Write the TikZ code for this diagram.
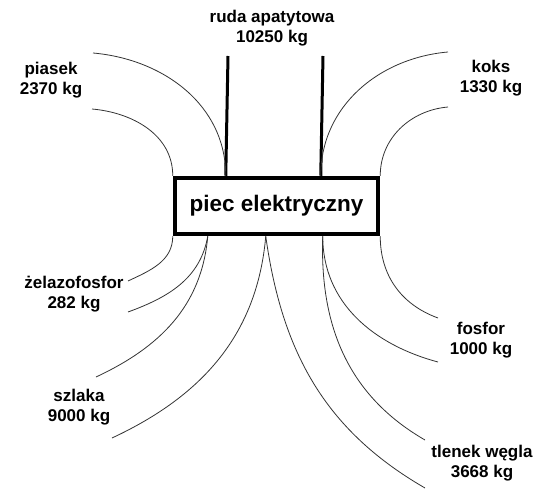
\documentclass[tikz,border=0pt]{standalone}
\usepackage{fontspec}
\setmainfont{Liberation Sans}
\usetikzlibrary{arrows.meta,positioning}

\begin{document}
\begin{tikzpicture}[x=1pt, y=1pt,
    furnace/.style={draw, line width=4.5pt, fill=white,
      minimum width=203pt, minimum height=56pt, inner sep=0pt,
      font=\fontsize{22.5}{26}\selectfont\bfseries},
    lbl/.style={align=center, inner sep=0pt,
      font=\fontsize{17}{20}\selectfont\bfseries},
    feed/.style={line width=3pt},
    flow/.style={line width=0.8pt, black!80}]
  \useasboundingbox (0,0) rectangle (555,-495);
  % --- Furnace ---
  \node[furnace] (piec) at (276.5,-206) {piec elektryczny};
  % --- Labels ---
  \node[lbl] (ruda) at (272,-28) {ruda apatytowa\\10250 kg};
  \node[lbl] (piasek) at (51,-80) {piasek\\2370 kg};
  \node[lbl] (koks) at (491,-78) {koks\\1330 kg};
  \node[lbl] (zelazo) at (74,-294) {żelazofosfor\\282 kg};
  \node[lbl] (szlaka) at (79,-407) {szlaka\\9000 kg};
  \node[lbl] (fosfor) at (481,-340) {fosfor\\1000 kg};
  \node[lbl] (tlenek) at (482,-463) {tlenek węgla\\3668 kg};
  % --- Attachment points ---
  \coordinate (top-l) at ([xshift=53pt]piec.north west);
  \coordinate (top-r) at ([xshift=148pt]piec.north west);
  \coordinate (bot-l) at ([xshift=35pt]piec.south west);
  \coordinate (bot-m) at ([xshift=93pt]piec.south west);
  \coordinate (bot-r) at ([xshift=150pt]piec.south west);
  \coordinate (ruda-l) at (228,-56);
  \coordinate (ruda-r) at (323,-56);
  \coordinate (piasek-a) at (93,-53);
  \coordinate (piasek-b) at (92,-109);
  \coordinate (koks-a) at (448,-52);
  \coordinate (koks-b) at (448,-107);
  \coordinate (zelazo-a) at (128,-281);
  \coordinate (zelazo-b) at (128,-312);
  \coordinate (szlaka-a) at (96,-377);
  \coordinate (szlaka-b) at (112,-438);
  \coordinate (fosfor-a) at (438,-318);
  \coordinate (fosfor-b) at (438,-362);
  \coordinate (tlenek-a) at (425,-440);
  \coordinate (tlenek-b) at (425,-488);
  % --- Inputs ---
  \draw[feed] (ruda-l) -- (top-l);
  \draw[feed] (ruda-r) -- (top-r);
  \draw[flow] (piasek-a) to[out=-5, in=90] (top-l);
  \draw[flow] (piasek-b) to[out=-5, in=90] (piec.north west);
  \draw[flow] (koks-a) to[out=185, in=90] (top-r);
  \draw[flow] (koks-b) to[out=185, in=90] (piec.north east);
  % --- Outputs ---
  \draw[flow] (zelazo-a) to[out=25, in=-90] (piec.south west);
  \draw[flow] (zelazo-b) to[out=20, in=-100] (bot-l);
  \draw[flow] (szlaka-a) to[out=25, in=-95] (bot-l);
  \draw[flow] (szlaka-b) to[out=25, in=-95] (bot-m);
  \draw[flow] (fosfor-a) to[out=160, in=-90] (piec.south east);
  \draw[flow] (fosfor-b) to[out=165, in=-90] (bot-r);
  \draw[flow] (tlenek-a) to[out=150, in=-92] (bot-r);
  \draw[flow] (tlenek-b) to[out=150, in=-82] (bot-m);
\end{tikzpicture}
\end{document}
